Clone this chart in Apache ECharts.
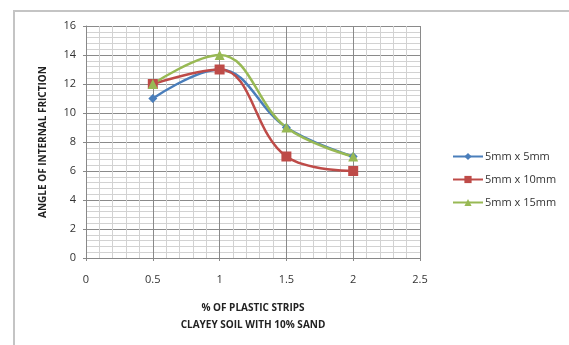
<!DOCTYPE html>
<html>
<head>
<meta charset="utf-8">
<script src="https://cdn.jsdelivr.net/npm/echarts@6/dist/echarts.min.js"></script>
<style>
  html, body { margin: 0; padding: 0; background: #fff; }
  #chart { width: 569px; height: 345px; }
</style>
</head>
<body>
<div id="chart"></div>
<script>
// % of plastic strips
var xValues = [0.5, 1, 1.5, 2];
var seriesNames = ["5mm x 5mm", "5mm x 10mm", "5mm x 15mm"];
var angle5x5 = [11, 13, 9, 7];
var angle5x10 = [12, 13, 7, 6];
var angle5x15 = [12, 14, 9, 7];

function pairs(ys) {
  return xValues.map(function (x, i) { return [x, ys[i]]; });
}

var chart = echarts.init(document.getElementById("chart"));

var option = {
  animation: false,
  textStyle: { fontFamily: "Open Sans, DejaVu Sans, sans-serif" },
  graphic: [
    {
      type: "rect",
      shape: { x: 14, y: 11, width: 700, height: 500 },
      style: { fill: "none", stroke: "#c4c4c4", lineWidth: 2 },
      silent: true
    }
  ],
  grid: { left: 86, right: 149, top: 26, bottom: 87 },
  legend: {
    orient: "vertical",
    left: 447,
    top: 146,
    itemGap: 12,
    itemWidth: 30,
    itemHeight: 9,
    textStyle: { fontSize: 11, color: "#333", padding: [0, 0, 0, -3] },
    data: seriesNames
  },
  xAxis: {
    type: "value",
    min: 0,
    max: 2.5,
    interval: 0.5,
    name: "% OF PLASTIC STRIPS\nCLAYEY SOIL WITH 10% SAND",
    nameLocation: "middle",
    nameGap: 42,
    nameTextStyle: { fontSize: 10, fontWeight: "bold", color: "#222", lineHeight: 17 },
    axisLine: { show: true, lineStyle: { color: "#888" } },
    axisTick: { show: true, length: 3, lineStyle: { color: "#888" } },
    axisLabel: { color: "#333", fontSize: 11, margin: 16 },
    splitLine: { show: true, lineStyle: { color: "#8a8a8a", width: 1 } },
    minorTick: { show: false, splitNumber: 5 },
    minorSplitLine: { show: true, lineStyle: { color: "#d2d2d2", width: 1 } }
  },
  yAxis: {
    type: "value",
    min: 0,
    max: 16,
    interval: 2,
    name: "ANGLE OF INTERNAL FRICTION",
    nameLocation: "middle",
    nameGap: 38,
    nameTextStyle: { fontSize: 10, fontWeight: "bold", color: "#222" },
    axisLine: { show: true, lineStyle: { color: "#888" } },
    axisTick: { show: true, length: 3, lineStyle: { color: "#888" } },
    axisLabel: { color: "#333", fontSize: 11, margin: 10 },
    splitLine: { show: true, lineStyle: { color: "#8a8a8a", width: 1 } },
    minorTick: { show: false, splitNumber: 5 },
    minorSplitLine: { show: true, lineStyle: { color: "#d2d2d2", width: 1 } }
  },
  series: [
    {
      name: seriesNames[0],
      type: "line",
      smooth: 0.4,
      data: pairs(angle5x5),
      symbol: "diamond",
      symbolSize: 9,
      lineStyle: { width: 2.5, color: "#4a7ebb" },
      itemStyle: { color: "#4a7ebb" }
    },
    {
      name: seriesNames[1],
      type: "line",
      smooth: 0.4,
      data: pairs(angle5x10),
      symbol: "rect",
      symbolSize: 10,
      lineStyle: { width: 2.5, color: "#be4b48" },
      itemStyle: { color: "#be4b48" }
    },
    {
      name: seriesNames[2],
      type: "line",
      smooth: 0.4,
      data: pairs(angle5x15),
      symbol: "triangle",
      symbolSize: 10,
      lineStyle: { width: 2.5, color: "#98b954" },
      itemStyle: { color: "#98b954" }
    }
  ]
};

chart.setOption(option);
</script>
</body>
</html>
